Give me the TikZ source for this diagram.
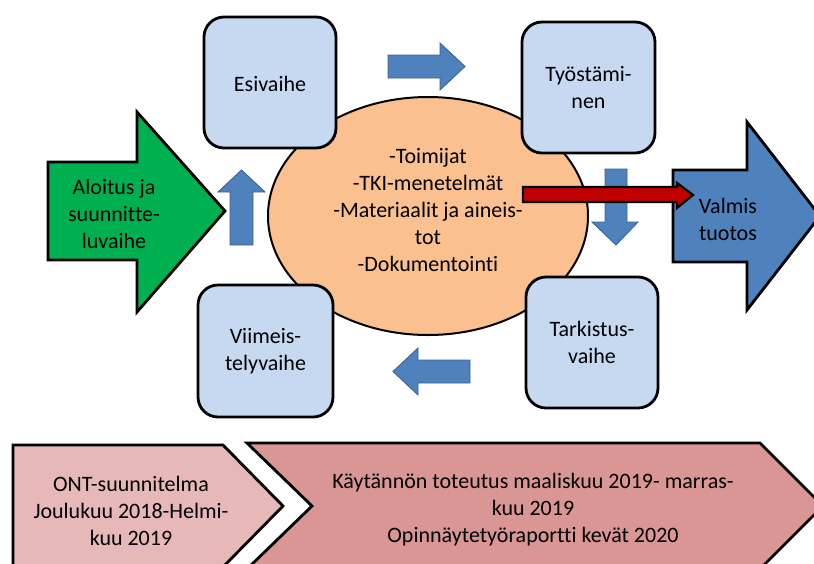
\documentclass[tikz,border=0pt]{standalone}
\usepackage{fontspec}
\setmainfont[RawFeature={-liga;-clig;-dlig;-calt}]{Carlito}
\usetikzlibrary{shapes.geometric}

\definecolor{boxblue}{HTML}{C6D9F1}
\definecolor{ovalorange}{HTML}{FAC090}
\definecolor{startgreen}{HTML}{00B050}
\definecolor{endblue}{HTML}{4F81BD}
\definecolor{flowblue}{HTML}{4F81BD}
\definecolor{flowedge}{HTML}{3A6496}
\definecolor{linkred}{HTML}{C00000}
\definecolor{phaseone}{HTML}{E6B9B8}
\definecolor{phasetwo}{HTML}{D99694}

\tikzset{
  txt/.style={font=\fontsize{22}{27}\selectfont, align=center, text=black},
  stagebox/.style={txt, draw=black, line width=2.8pt, fill=boxblue,
    rounded corners=20pt, inner sep=0pt},
  bigarrow/.style={draw=black, line width=2.8pt, line join=miter},
  flowarrow/.style={fill=flowblue, draw=flowedge, line width=0.9pt, line join=miter},
  phase/.style={draw=black, line width=2.8pt, line join=miter},
}

\begin{document}
\begin{tikzpicture}[x=1pt, y=-1pt]
\useasboundingbox (0,0) rectangle (814,563);
\clip (0,0) rectangle (814,563);

% timeline chevrons along the bottom
\draw[phase, fill=phaseone] (13,445) -- (223,445) -- (283,506) -- (223,567) -- (13,567) -- cycle;
\draw[phase, fill=phasetwo] (247,443) -- (760,443) -- (823,506) -- (760,569) -- (247,569) -- (312,506) -- cycle;
\node[txt] (plan) at (131,511) {ONT-suunnitelma\\Joulukuu 2018-Helmi-\\kuu 2019};
\node[txt] (impl) at (533,510) {Käytännön toteutus maaliskuu 2019- marras-\\kuu 2019\\Opinnäytetyöraportti kevät 2020};

% start arrow
\draw[bigarrow, fill=startgreen] (48,162) -- (137,162) -- (137,112) -- (225,211) -- (137,312) -- (137,260) -- (48,260) -- cycle;
\node[txt] (start) at (114,214) {Aloitus ja\\suunnitte-\\luvaihe};

% result arrow
\draw[bigarrow, fill=endblue] (673,170) -- (747,170) -- (747,122) -- (820,216) -- (747,310) -- (747,262) -- (673,262) -- cycle;
\node[txt] (result) at (728,219) {Valmis\\tuotos};

% central oval with resources
\node[ellipse, draw=black, line width=2pt, fill=ovalorange, minimum width=320pt, minimum height=238pt, inner sep=0pt] (core) at (428,216) {};
\node[txt] (corelist) at (428,210) {-Toimijat\\-TKI-menetelmät\\-Materiaalit ja aineis-\\tot\\-Dokumentointi};

% cycle arrows between the stages
\draw[flowarrow] (230,245) -- (230,192) -- (218,192) -- (241.5,170) -- (265,192) -- (253,192) -- (253,245) -- cycle;
\draw[flowarrow] (388,55) -- (440,55) -- (440,43) -- (465,66.5) -- (440,90) -- (440,78) -- (388,78) -- cycle;
\draw[flowarrow] (605,169) -- (627,169) -- (627,222) -- (638,222) -- (616,245) -- (592,222) -- (605,222) -- cycle;
\draw[flowarrow] (470,360) -- (418,360) -- (418,348) -- (393,371.5) -- (418,395) -- (418,383) -- (470,383) -- cycle;

% link from the oval to the result
\draw[bigarrow, line width=2.2pt, fill=linkred] (523,187) -- (677,187) -- (677,183) -- (693,195) -- (677,208) -- (677,202) -- (523,202) -- cycle;

% stages
\node[stagebox, minimum width=132pt, minimum height=131pt, text depth=0pt] (esi) at (270,82.5) {\raisebox{-3pt}{Esivaihe}};
\node[stagebox, minimum width=133pt, minimum height=131pt] (work) at (588.5,87.5) {Työstämi-\\nen};
\node[stagebox, minimum width=132pt, minimum height=131pt] (check) at (592,342.5) {Tarkistus-\\vaihe};
\node[stagebox, minimum width=135pt, minimum height=132pt] (final) at (265.5,351) {Viimeis-\\telyvaihe};

\end{tikzpicture}
\end{document}
